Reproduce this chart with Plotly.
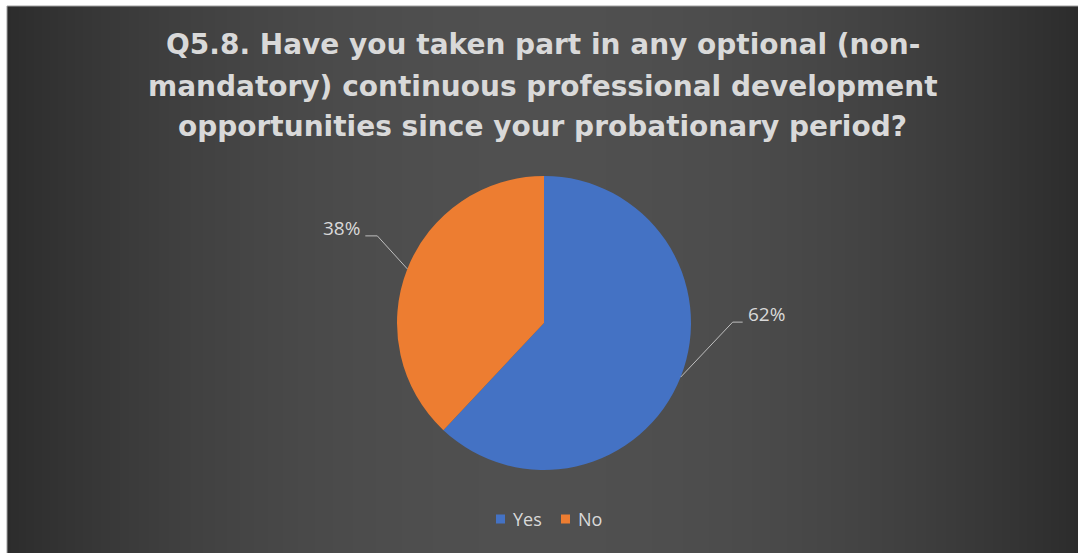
import base64
import math
import struct
import zlib

import numpy as np
import plotly.graph_objects as go

# ---- data -------------------------------------------------------------
categories = ["Yes", "No"]
shares = [62, 38]
colors = ["#4472C4", "#ED7D31"]
title_lines = [
    "Q5.8. Have you taken part in any optional (non-",
    "mandatory) continuous professional development",
    "opportunities since your probationary period?",
]

# ---- canvas geometry (pixels) -------------------------------------------
W, H = 1078, 553
PANEL_X0, PANEL_Y0 = 7, 6          # white frame on the top/left edges
CX, CY, R = 544, 323, 147          # pie centre and radius
TEXT = "#d9d9d9"
LEGEND_X = [496, 561]              # left edge of each legend swatch
LEGEND_Y = 519


def px(x):
    return x / W


def py(y):
    return 1 - y / H


def gradient_png(width, height, centre, edge):
    """Horizontal dark-edge / lighter-centre gradient as a PNG data URI."""
    t = np.abs(np.linspace(-1.0, 1.0, width))
    row = np.round(centre - (centre - edge) * t ** 2).astype(np.uint8)
    rgb = np.repeat(row[:, None], 3, axis=1)
    img = np.repeat(rgb[None, :, :], height, axis=0)
    raw = b"".join(b"\x00" + r.tobytes() for r in img)

    def chunk(tag, data):
        c = struct.pack(">I", len(data)) + tag + data
        return c + struct.pack(">I", zlib.crc32(tag + data) & 0xFFFFFFFF)

    png = b"\x89PNG\r\n\x1a\n"
    png += chunk(b"IHDR", struct.pack(">IIBBBBB", width, height, 8, 2, 0, 0, 0))
    png += chunk(b"IDAT", zlib.compress(raw, 9))
    png += chunk(b"IEND", b"")
    return "data:image/png;base64," + base64.b64encode(png).decode()


fig = go.Figure(
    go.Pie(
        labels=categories,
        values=shares,
        marker=dict(colors=colors, line=dict(width=0)),
        sort=False,
        direction="clockwise",
        rotation=0,
        textinfo="none",
        hoverinfo="label+percent",
        showlegend=False,
        domain=dict(x=[px(CX - R), px(CX + R)], y=[py(CY + R), py(CY - R)]),
    )
)

# ---- value labels with elbow leader lines ---------------------------------
label_style = [
    # (elbow dx, elbow dy, horizontal run, side)
    (52, -55, 10, "right"),
    (-30, -33, -12, "left"),
]
shapes = []
annotations = []
total = sum(shares)
cum = 0
for val, (edx, edy, run, side) in zip(shares, label_style):
    mid = (cum + val / 2) / total * 2 * math.pi
    cum += val
    ex, ey = CX + R * math.sin(mid), CY - R * math.cos(mid)
    bx, by = ex + edx, ey + edy
    tx = bx + run
    for (x0, y0, x1, y1) in [(ex, ey, bx, by), (bx, by, tx, by)]:
        shapes.append(dict(type="line", xref="paper", yref="paper",
                           x0=px(x0), y0=py(y0), x1=px(x1), y1=py(y1),
                           line=dict(color="#bfbfbf", width=1)))
    annotations.append(dict(
        text=f"{round(val / total * 100)}%",
        xref="paper", yref="paper",
        x=px(tx + (3 if side == "right" else -3)), y=py(by - 8),
        xanchor="left" if side == "right" else "right", yanchor="middle",
        showarrow=False,
        font=dict(family="Open Sans", size=19, color=TEXT),
    ))

# ---- legend: swatch + label per category ---------------------------------
for name, col, lx in zip(categories, colors, LEGEND_X):
    shapes.append(dict(type="rect", xref="paper", yref="paper",
                       x0=px(lx), x1=px(lx + 9),
                       y0=py(LEGEND_Y + 4.5), y1=py(LEGEND_Y - 4.5),
                       fillcolor=col, line=dict(width=0)))
    annotations.append(dict(
        text=name, xref="paper", yref="paper",
        x=px(lx + 15), y=py(LEGEND_Y),
        xanchor="left", yanchor="middle", showarrow=False,
        font=dict(family="Open Sans", size=18, color=TEXT),
    ))

# ---- title, one annotation per line ---------------------------------------
for line, yc in zip(title_lines, [45, 86, 126]):
    annotations.append(dict(
        text=f"<b>{line}</b>", xref="paper", yref="paper",
        x=px((PANEL_X0 + W) / 2), y=py(yc),
        xanchor="center", yanchor="middle", showarrow=False,
        font=dict(family="DejaVu Sans", size=28, color=TEXT),
    ))

# thin grey edge between the white frame and the dark panel
shapes.append(dict(type="line", xref="paper", yref="paper",
                   x0=px(PANEL_X0), y0=py(PANEL_Y0), x1=1, y1=py(PANEL_Y0),
                   line=dict(color="#a0a0a0", width=1)))
shapes.append(dict(type="line", xref="paper", yref="paper",
                   x0=px(PANEL_X0), y0=0, x1=px(PANEL_X0), y1=py(PANEL_Y0),
                   line=dict(color="#a0a0a0", width=1)))

fig.update_layout(
    width=W,
    height=H,
    margin=dict(l=0, r=0, t=0, b=0),
    paper_bgcolor="white",
    plot_bgcolor="rgba(0,0,0,0)",
    images=[dict(
        source=gradient_png(W - PANEL_X0, 4, 80, 44),
        xref="paper", yref="paper",
        x=px(PANEL_X0), y=py(PANEL_Y0),
        sizex=1 - px(PANEL_X0), sizey=py(PANEL_Y0),
        xanchor="left", yanchor="top",
        sizing="stretch", layer="below",
    )],
    shapes=shapes,
    annotations=annotations,
    showlegend=False,
)

fig.write_html("out.html")
